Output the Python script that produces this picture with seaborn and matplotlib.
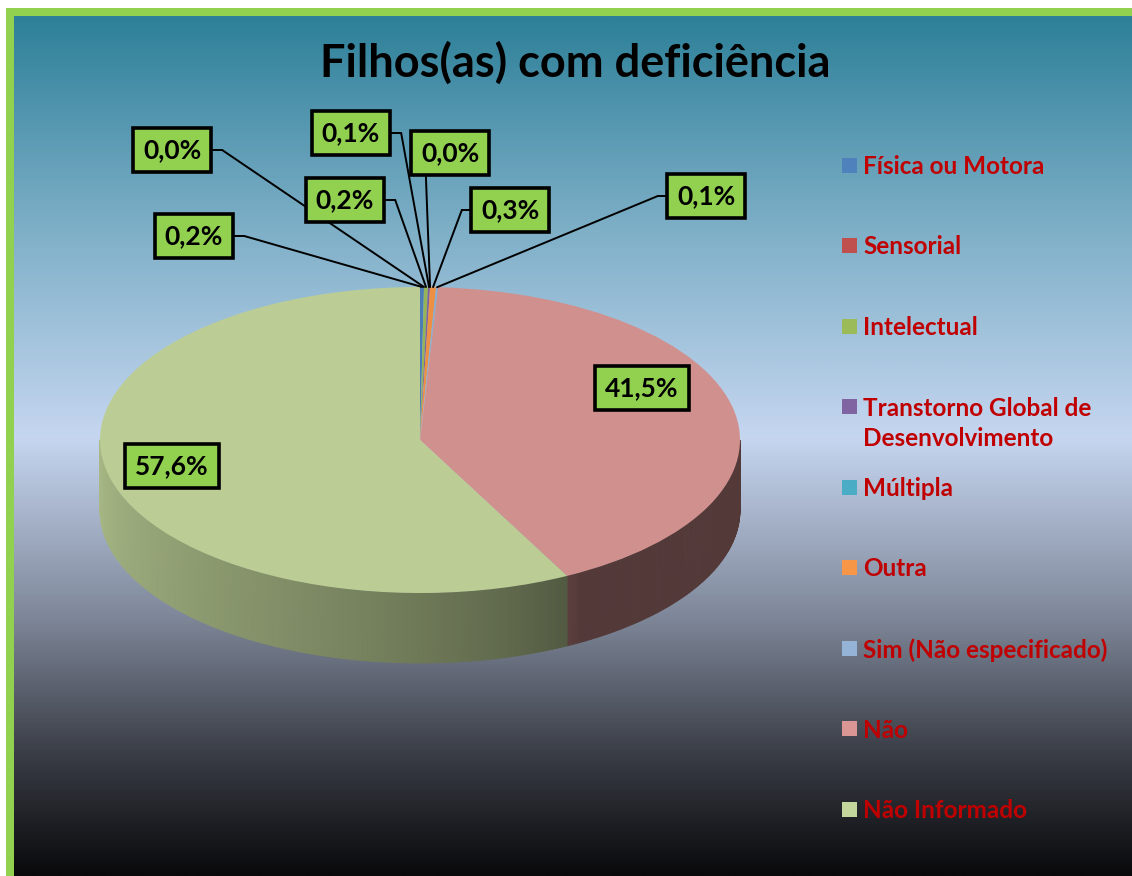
import numpy as np
import matplotlib
matplotlib.use("Agg")
import matplotlib.pyplot as plt
import seaborn as sns
from matplotlib.patches import Rectangle
from matplotlib.colors import LinearSegmentedColormap, to_rgb

# data
categories = ["Física ou Motora", "Sensorial", "Intelectual",
              "Transtorno Global de\nDesenvolvimento", "Múltipla", "Outra",
              "Sim (Não especificado)", "Não", "Não Informado"]
percent = [0.2, 0.0, 0.2, 0.1, 0.0, 0.3, 0.1, 41.5, 57.6]
legend_colors = ["#4F81BD", "#C0504D", "#9BBB59", "#8064A2", "#4BACC6",
                 "#F79646", "#95B3D7", "#D99694", "#C3D69B"]
title = "Filhos(as) com deficiência"

# label box centres (image pixels, origin top-left) and how the leader leaves the box
label_pos = [(194, 236), (172, 150), (345, 200), (351, 133), (450, 153),
             (510, 210), (706, 196), (642, 388), (172, 466)]
leader_side = ["right", "right", "right", "right", "bottom", "left", "left", None, None]

W, H = 1132, 876
CX, CY, RX, RY, DEPTH = 420, 440, 320, 153, 70

sns.set_theme(style="white")
plt.rcParams["font.family"] = ["Lato", "DejaVu Sans"]

fig = plt.figure(figsize=(W / 100, H / 100), dpi=100)
fig.patch.set_facecolor("white")

# background gradient + green frame
bg = fig.add_axes([0, 0, 1, 1], zorder=-10)
bg.set_xlim(0, W)
bg.set_ylim(H, 0)
bg.axis("off")
cmap = LinearSegmentedColormap.from_list(
    "bg", [(0.0, "#2E8099"), (0.25, "#7FB0C8"), (0.49, "#C6D6F0"),
           (0.7, "#7E8799"), (0.86, "#3A3D46"), (1.0, "#0A0A0C")])
grad = np.linspace(0, 1, 600).reshape(-1, 1)
bg.imshow(grad, cmap=cmap, extent=(14, W, H, 16), aspect="auto")
bg.add_patch(Rectangle((6, 8), W - 6, 8, color="#92D050", lw=0))
bg.add_patch(Rectangle((6, 8), 8, H - 8, color="#92D050", lw=0))

# pie axes: x unit = RX px, y unit = RY px (flattened ellipse)
x0, x1, y0, y1 = -1.05, 1.05, -1.6, 1.1
ax = fig.add_axes([(CX + x0 * RX) / W, (H - (CY - y0 * RY)) / H,
                   (x1 - x0) * RX / W, (y1 - y0) * RY / H])
face = [tuple(c * 0.96 for c in to_rgb(col)) for col in sns.color_palette(legend_colors)]
wedges, _ = ax.pie(percent, colors=face, startangle=90, counterclock=False,
                   wedgeprops=dict(linewidth=0))
ax.set_aspect("auto")
ax.set_xlim(x0, x1)
ax.set_ylim(y0, y1)
ax.axis("off")

# side wall of the 3-D pie (front half only)
d = DEPTH / RY
for w, col in zip(wedges, face):
    t1, t2 = w.theta1, w.theta2
    for k in (-720, -360, 0, 360):
        a, b = max(t1 + k, 180), min(t2 + k, 360)
        if b <= a:
            continue
        angs = np.linspace(a, b, max(int((b - a) * 2), 2))
        for p, q in zip(angs[:-1], angs[1:]):
            m = (p + q) / 2
            s = np.clip((300 - m) / 120, 0, 1) ** 0.7
            f = 0.4 + 0.5 * s
            c = tuple(np.clip(np.array(col) * f, 0, 1))
            xs = np.cos(np.radians([p, q, q, p]))
            ys = np.sin(np.radians([p, q, q, p])) - np.array([0, 0, d, d])
            ax.fill(xs, ys, color=c, lw=0.6, ec=c, zorder=0)

# data labels
texts = []
for i, v in enumerate(percent):
    s = f"{v:.1f}%".replace(".", ",")
    px, py = label_pos[i]
    t = fig.text(px / W, 1 - py / H, s, ha="center", va="center", fontsize=19,
                 weight="bold", color="black", zorder=5,
                 bbox=dict(boxstyle="square,pad=0.38", fc="#92D050", ec="black", lw=2.6))
    texts.append(t)

fig.canvas.draw()
for i, w in enumerate(wedges):
    side = leader_side[i]
    if side is None:
        continue
    mid = np.radians((w.theta1 + w.theta2) / 2)
    bb = texts[i].get_bbox_patch().get_window_extent()
    ym = (bb.y0 + bb.y1) / 2
    if side == "right":
        start, elbow = (bb.x1, ym), (bb.x1 + 11, ym)
    elif side == "left":
        start, elbow = (bb.x0, ym), (bb.x0 - 9, ym)
    else:
        start = elbow = (bb.x0 + 15, bb.y0)
    ax.annotate("", xy=elbow, xycoords="figure pixels", xytext=start,
                textcoords="figure pixels",
                arrowprops=dict(arrowstyle="-", lw=1.4, color="black", shrinkA=0, shrinkB=0))
    ax.annotate("", xy=(np.cos(mid), np.sin(mid)), xycoords="data", xytext=elbow,
                textcoords="figure pixels",
                arrowprops=dict(arrowstyle="-", lw=1.4, color="black", shrinkA=0, shrinkB=0))

# title
fig.text(575 / W, 1 - 63 / H, title, ha="center", va="center", fontsize=32.5,
         weight="bold", color="black")

# legend (manual, matching the spaced Excel layout)
for i, (name, col) in enumerate(zip(categories, legend_colors)):
    yc = 165 + 80.5 * i
    bg.add_patch(Rectangle((842, yc - 7.5), 15, 15, color=col, lw=0))
    bg.text(863, yc - 10, name, ha="left", va="top", fontsize=17.5, weight="bold",
            color="#C00000", linespacing=1.42)

fig.savefig("out.png", dpi=100)
